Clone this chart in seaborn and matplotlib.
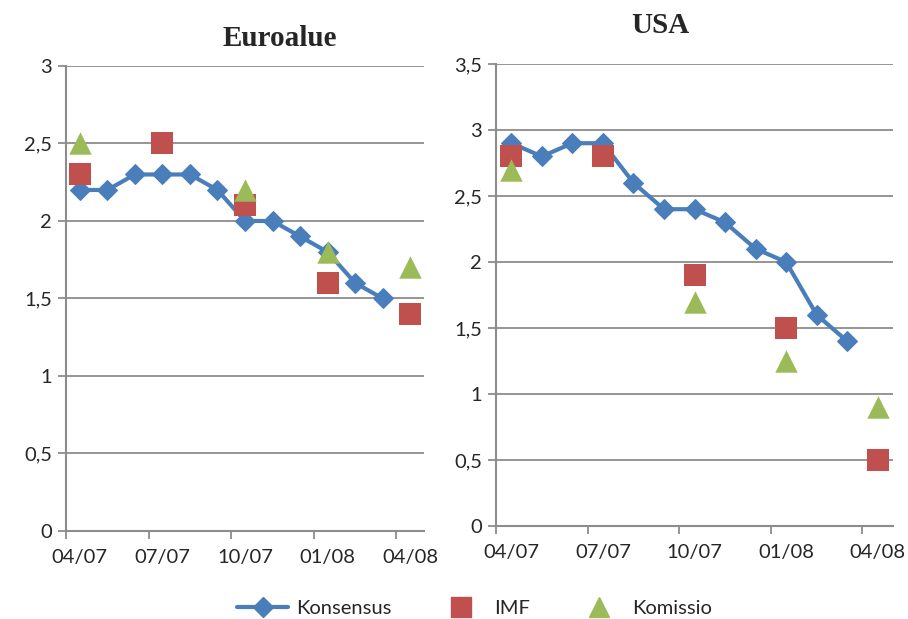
import numpy as np
import pandas as pd
import matplotlib
matplotlib.use("Agg")
import matplotlib.pyplot as plt
from matplotlib.lines import Line2D
import seaborn as sns

months = ["04/07", "05/07", "06/07", "07/07", "08/07", "09/07", "10/07",
          "11/07", "12/07", "01/08", "02/08", "03/08", "04/08"]
tick_months = ["04/07", "07/07", "10/07", "01/08", "04/08"]

nan = np.nan
euro_konsensus = [2.2, 2.2, 2.3, 2.3, 2.3, 2.2, 2.0, 2.0, 1.9, 1.8, 1.6, 1.5, nan]
euro_imf = [2.3, nan, nan, 2.5, nan, nan, 2.1, nan, nan, 1.6, nan, nan, 1.4]
euro_komissio = [2.5, nan, nan, nan, nan, nan, 2.2, nan, nan, 1.8, nan, nan, 1.7]

usa_konsensus = [2.9, 2.8, 2.9, 2.9, 2.6, 2.4, 2.4, 2.3, 2.1, 2.0, 1.6, 1.4, nan]
usa_imf = [2.8, nan, nan, 2.8, nan, nan, 1.9, nan, nan, 1.5, nan, nan, 0.5]
usa_komissio = [2.7, nan, nan, nan, nan, nan, 1.7, nan, nan, 1.25, nan, nan, 0.9]

BLUE = "#4A7EBB"
RED = "#C0504D"
GREEN = "#9BBB59"
GRID = "#8C8C8C"
FS = 14.5

sns.set_style("white")
plt.rcParams["font.family"] = ["Lato", "DejaVu Sans"]

fig = plt.figure(figsize=(9.08, 6.19), dpi=100)
ax_euro = fig.add_axes([0.0727, 0.1422, 0.3943, 0.7512])
ax_usa = fig.add_axes([0.5463, 0.1502, 0.4372, 0.7464])


def draw_panel(ax, kons, imf, kom, ymax):
    pos = np.arange(len(months))
    df = pd.DataFrame({"pos": pos, "Konsensus": kons, "IMF": imf, "Komissio": kom})
    sns.lineplot(data=df.dropna(subset=["Konsensus"]), x="pos", y="Konsensus", ax=ax,
                 color=BLUE, lw=3, marker="D", markersize=10,
                 markeredgecolor=BLUE, zorder=3)
    sns.scatterplot(data=df.dropna(subset=["IMF"]), x="pos", y="IMF", ax=ax,
                    color=RED, marker="s", s=230, linewidth=0, zorder=4)
    sns.scatterplot(data=df.dropna(subset=["Komissio"]), x="pos", y="Komissio", ax=ax,
                    color=GREEN, marker="^", s=260, linewidth=0, zorder=5)

    ax.set_xlim(-0.5, len(months) - 0.5)
    ax.set_ylim(0, ymax)
    yt = np.arange(0, ymax + 0.01, 0.5)
    ax.set_yticks(yt)
    ax.set_yticklabels([f"{v:g}".replace(".", ",") for v in yt], fontsize=FS)
    ax.yaxis.grid(True, color=GRID, lw=1.3)
    ax.set_axisbelow(True)

    # tick marks sit on category boundaries, labels on the category centres
    ax.set_xticks(np.arange(-0.5, len(months), 3))
    ax.set_xticklabels([])
    ax.set_xticks([months.index(m) for m in tick_months], minor=True)
    ax.set_xticklabels(tick_months, minor=True, fontsize=FS)
    ax.tick_params(axis="x", which="major", length=6, width=1.3, color=GRID,
                   direction="out", bottom=True)
    ax.tick_params(axis="x", which="minor", length=0, pad=13)
    ax.tick_params(axis="y", length=6, width=1.3, color=GRID, direction="out",
                   left=True, pad=4)

    for side in ("top", "right"):
        ax.spines[side].set_visible(False)
    for side in ("left", "bottom"):
        ax.spines[side].set_color(GRID)
        ax.spines[side].set_linewidth(1.5)
    ax.set_xlabel("")
    ax.set_ylabel("")


draw_panel(ax_euro, euro_konsensus, euro_imf, euro_komissio, 3.0)
draw_panel(ax_usa, usa_konsensus, usa_imf, usa_komissio, 3.5)

fig.text(0.308, 0.938, "Euroalue", ha="center", va="center",
         fontsize=21, fontweight="bold", family="Liberation Serif")
fig.text(0.727, 0.958, "USA", ha="center", va="center",
         fontsize=21, fontweight="bold", family="Liberation Serif")

handles = [
    Line2D([], [], color=BLUE, lw=3, marker="D", markersize=10),
    Line2D([], [], color=RED, lw=0, marker="s", markersize=14),
    Line2D([], [], color=GREEN, lw=0, marker="^", markersize=15),
]
fig.legend(handles, ["Konsensus", "IMF", "Komissio"], loc="center",
           bbox_to_anchor=(0.523, 0.017), ncol=3, frameon=False, fontsize=FS,
           handlelength=2.5, columnspacing=2.2, handletextpad=0.4)

fig.savefig("out.png", dpi=100)
